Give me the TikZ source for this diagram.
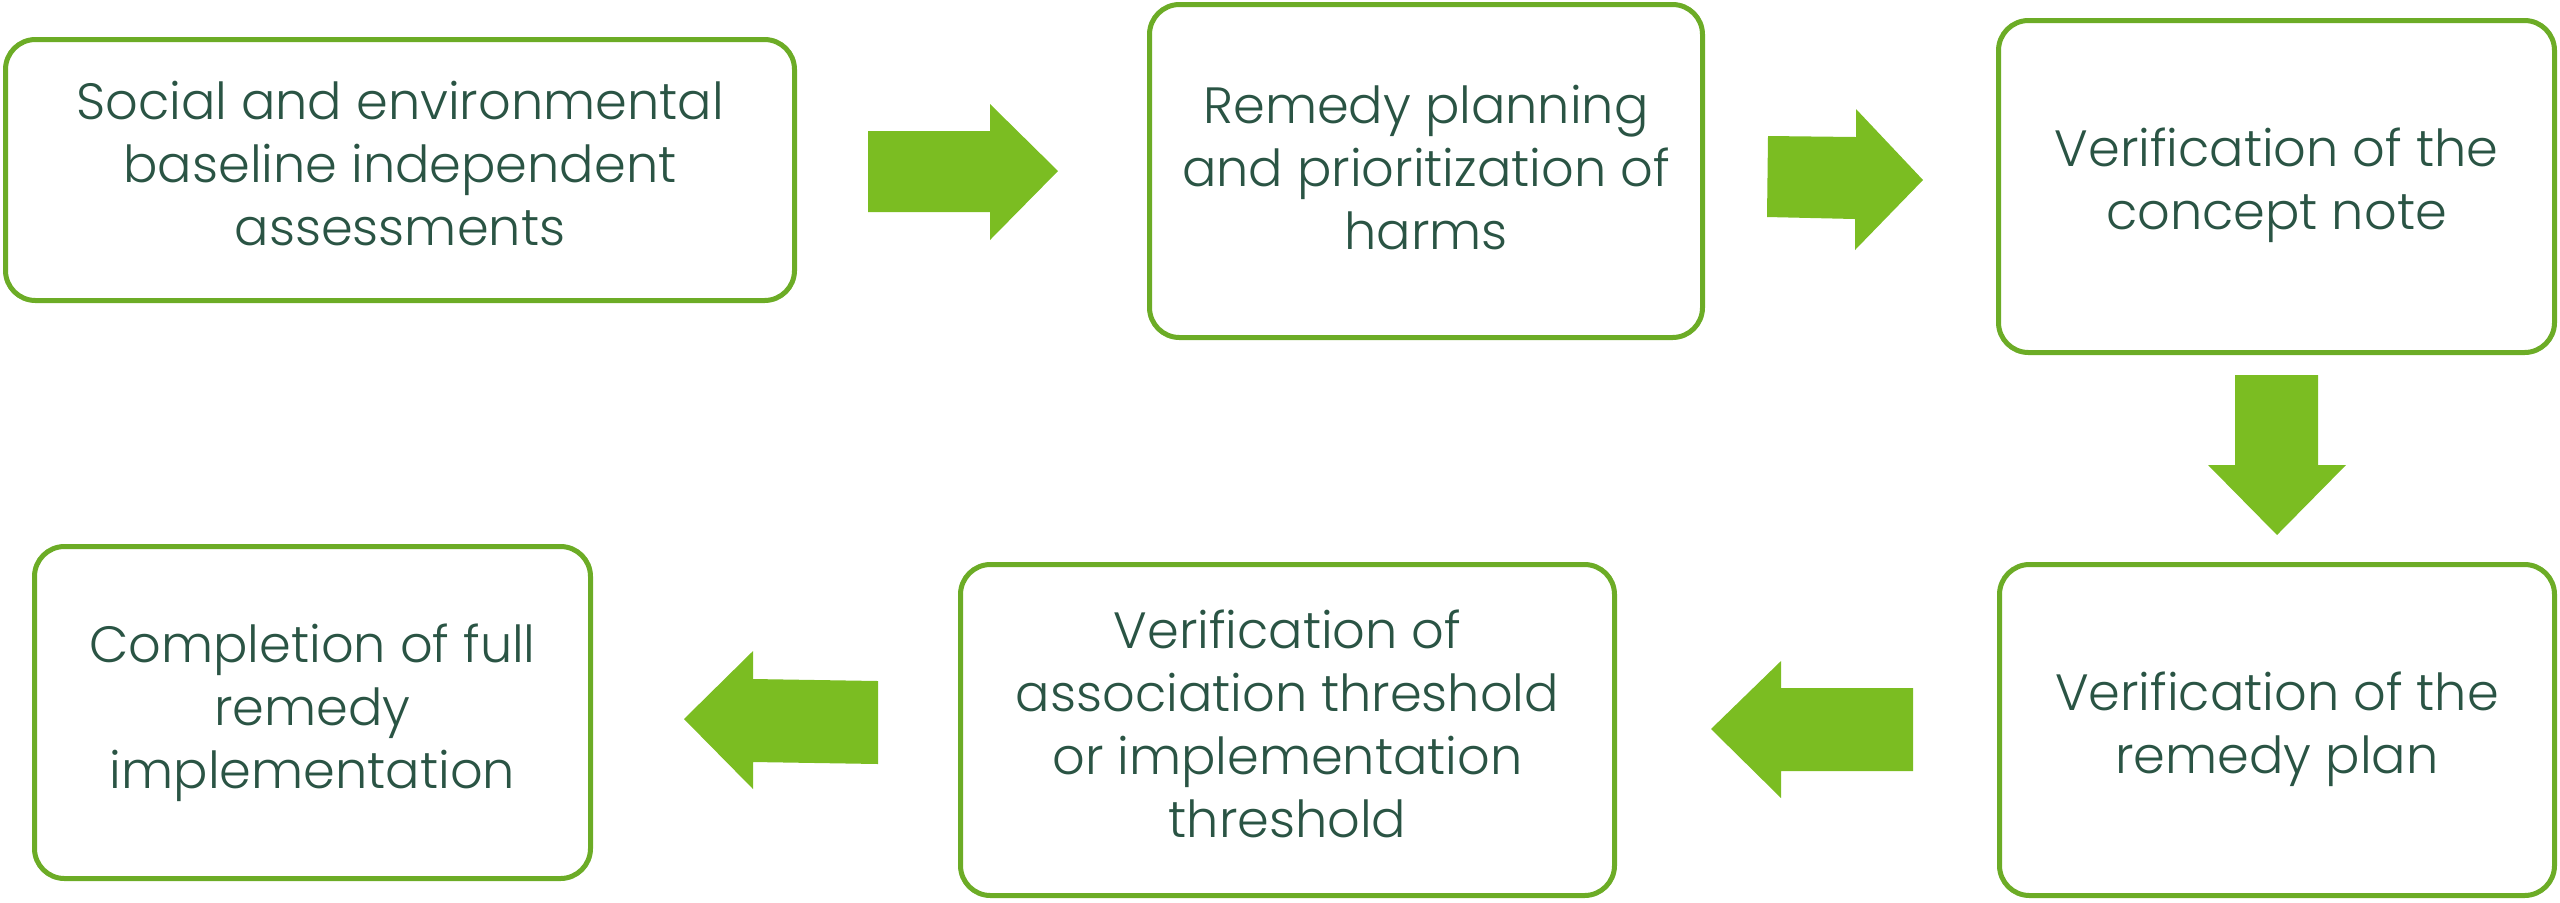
\documentclass[tikz,border=0pt]{standalone}
\usepackage{fontspec}
\setmainfont{Poppins}[UprightFont=* Light]
\definecolor{boxg}{RGB}{108,172,38}
\definecolor{arrg}{RGB}{123,189,34}
\definecolor{txtg}{RGB}{42,84,68}
\begin{document}
\begin{tikzpicture}[x=0.5pt,y=-0.5pt,
 stepbox/.style={draw=boxg, line width=2.5pt, rounded corners=15pt, fill=white, inner sep=0pt},
 steptext/.style={text=txtg, align=center, font=\fontsize{25.5}{31.5}\selectfont, inner sep=0pt},
 blockarrow/.style={fill=arrg, draw=none}]
\useasboundingbox (0,0) rectangle (2560,902);
\node[stepbox, minimum width=394.5pt, minimum height=130.5pt] (b1) at (400,170) {};
\node[stepbox, minimum width=276.5pt, minimum height=166.5pt] (b2) at (1426,171) {};
\node[stepbox, minimum width=278pt, minimum height=166pt] (b3) at (2276.5,186.5) {};
\node[stepbox, minimum width=277.5pt, minimum height=165.5pt] (b4) at (2277,730) {};
\node[stepbox, minimum width=327pt, minimum height=165.5pt] (b5) at (1287.5,730) {};
\node[stepbox, minimum width=278pt, minimum height=166pt] (b6) at (312.5,712.5) {};
\node[steptext] (t1) at ([yshift=3pt]b1.center) {Social and environmental\\baseline independent\\assessments};
\node[steptext] (t2) at ([yshift=1.5pt]b2.center) {Remedy planning\\and prioritization of\\harms};
\node[steptext] (t3) at ([yshift=0.5pt]b3.center) {Verification of the\\concept note};
\node[steptext] (t4) at ([yshift=0.5pt]b4.center) {Verification of the\\remedy plan};
\node[steptext] (t5) at ([yshift=3pt]b5.center) {Verification of\\association threshold\\or implementation\\threshold};
\node[steptext] (t6) at ([yshift=0pt]b6.center) {Completion of full\\remedy\\implementation};
\fill[blockarrow] (868,131) -- (990,131) -- (990,104) -- (1058,171) -- (990,240) -- (990,212) -- (868,212) -- cycle;
\fill[blockarrow] (1768,136) -- (1856,137) -- (1856,109) -- (1923,180) -- (1855,250) -- (1855,219) -- (1767,217) -- cycle;
\fill[blockarrow] (2235,375) -- (2318,375) -- (2318,465) -- (2346,465) -- (2277,535) -- (2208,465) -- (2235,465) -- cycle;
\fill[blockarrow] (1913,688) -- (1913,771) -- (1781,771) -- (1781,798) -- (1711,729) -- (1781,661) -- (1781,688) -- cycle;
\fill[blockarrow] (878,681) -- (878,764) -- (753,762) -- (753,789) -- (684,719) -- (753,651) -- (753,679) -- cycle;
\end{tikzpicture}
\end{document}
